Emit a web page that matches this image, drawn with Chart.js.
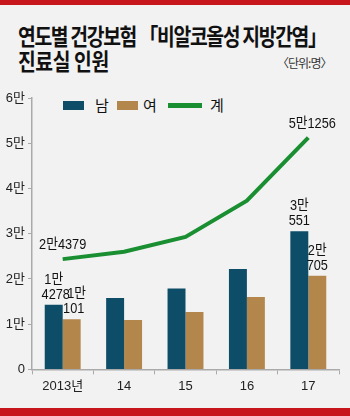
<!DOCTYPE html>
<html>
<head>
<meta charset="utf-8">
<script src="https://cdn.jsdelivr.net/npm/chart.js@4.4.1/dist/chart.umd.min.js"></script>
<style>
  body { margin: 0; width: 350px; height: 416px; background: #f2f2f2; position: relative; overflow: hidden; font-family: "Noto Sans CJK KR", sans-serif; }
  .bar-top { position: absolute; left: 0; top: 0; width: 350px; height: 5px; background: #c8161d; }
  .bar-bottom { position: absolute; left: 0; top: 408px; width: 350px; height: 8px; background: #c8161d; }
  .title { position: absolute; left: 18px; font-weight: 700; font-size: 23px; color: #111; white-space: nowrap; transform-origin: 0 0; transform: scaleX(0.84); letter-spacing: -0.5px; }
  .unit { position: absolute; left: 277px; top: 54px; font-size: 12px; color: #333; letter-spacing: -1px; }
  .legend { position: absolute; top: 96px; left: 0; font-size: 15px; color: #111; }
  .legend span { position: absolute; white-space: nowrap; }
  #wrap { position: absolute; left: 0; top: 0; width: 350px; height: 416px; }
</style>
</head>
<body>
<div class="bar-top"></div>
<div class="title" style="top:18px;letter-spacing:-1.6px">연도별 건강보험 「비알코올성 지방간염」</div>
<div class="title" style="top:43px">진료실 인원</div>
<div class="unit">〈단위:명〉</div>
<div class="legend" id="legend"></div>
<div id="wrap"><canvas id="c" width="350" height="416"></canvas></div>
<div class="bar-bottom"></div>
<script>
const years = ["2013년", "14", "15", "16", "17"];
const seriesNames = ["남", "여", "계"];
const male = [14278, 15800, 17900, 22200, 30551];
const female = [11101, 10900, 12700, 16000, 20705];
const total = [24379, 26000, 29300, 37300, 51256];
const maleLabels = [["1만", "4278"], null, null, null, ["3만", "551"]];
const femaleLabels = [["1만", "101"], null, null, null, ["2만", "705"]];
const totalLabels = ["2만4379", null, null, null, "5만1256"];
const yTicks = [0, 10000, 20000, 30000, 40000, 50000, 60000];

const colors = ["#0e4d68", "#b3864b", "#1a8f32"];
const numFont = "'Liberation Sans', 'Noto Sans CJK KR', sans-serif";

// html legend
const lg = document.getElementById("legend");
[[63, 21, 9, 5, 95], [117, 21, 9, 5, 143], [168, 34, 5, 7, 210]].forEach((p, i) => {
  lg.innerHTML += `<span style="left:${p[0]}px;top:${p[3]}px;width:${p[1]}px;height:${p[2]}px;background:${colors[i]}"></span>` +
    `<span style="left:${p[4]}px;top:-2px">${seriesNames[i]}</span>`;
});

// narrow text: squeeze horizontally
function narrowText(ctx, s, x, y) {
  ctx.save();
  ctx.translate(x, y);
  ctx.scale(0.85, 1);
  ctx.fillText(s, 0, 0);
  ctx.restore();
}

const valueLabels = {
  id: "valueLabels",
  afterDatasetsDraw(chart) {
    const ctx = chart.ctx;
    ctx.save();
    ctx.fillStyle = "#111";
    ctx.textAlign = "center";
    ctx.textBaseline = "middle";
    ctx.font = "15px " + numFont;
    [maleLabels, femaleLabels].forEach((lbls, di) => {
      chart.getDatasetMeta(di).data.forEach((el, j) => {
        const l = lbls[j];
        if (!l) return;
        const dx = (j === 0) ? 2 : 0;
        narrowText(ctx, l[1], el.x + dx, el.y - 10);
        narrowText(ctx, l[0], el.x + (di === 1 && j === 0 ? 5 : 0), el.y - 25);
      });
    });
    chart.getDatasetMeta(2).data.forEach((el, j) => {
      const l = totalLabels[j];
      if (!l) return;
      narrowText(ctx, l, el.x + (j === 4 ? 4 : 0), el.y - 14);
    });
    ctx.restore();
  }
};

new Chart(document.getElementById("c"), {
  data: {
    labels: years,
    datasets: [
      { type: "bar", label: seriesNames[0], data: male, backgroundColor: colors[0], order: 2 },
      { type: "bar", label: seriesNames[1], data: female, backgroundColor: colors[1], order: 2 },
      { type: "line", label: seriesNames[2], data: total, borderColor: colors[2], borderWidth: 4, pointRadius: 0, tension: 0, fill: false, order: 1 }
    ]
  },
  options: {
    responsive: false,
    animation: false,
    layout: { padding: { top: 98, right: 11, bottom: 18, left: 0 } },
    datasets: { bar: { categoryPercentage: 0.585, barPercentage: 1 } },
    plugins: { legend: { display: false }, tooltip: { enabled: false } },
    scales: {
      x: {
        offset: true,
        grid: { drawOnChartArea: false, tickLength: 5, color: "#aaa" },
        border: { color: "#aaa", width: 1.5 },
        ticks: { color: "#222", font: { size: 13, family: numFont }, padding: 4 }
      },
      y: {
        min: 0, max: 60000,
        afterFit(s) { s.width = 32; },
        afterBuildTicks(s) { s.ticks = yTicks.map(v => ({ value: v })); },
        grid: { drawOnChartArea: false, tickLength: 4, color: "#aaa" },
        border: { color: "#aaa", width: 1.5 },
        ticks: {
          color: "#222", padding: 3,
          font: { size: 13, family: numFont },
          callback: v => v === 0 ? "0" : (v / 10000) + "만"
        }
      }
    }
  },
  plugins: [valueLabels]
});
</script>
</body>
</html>
